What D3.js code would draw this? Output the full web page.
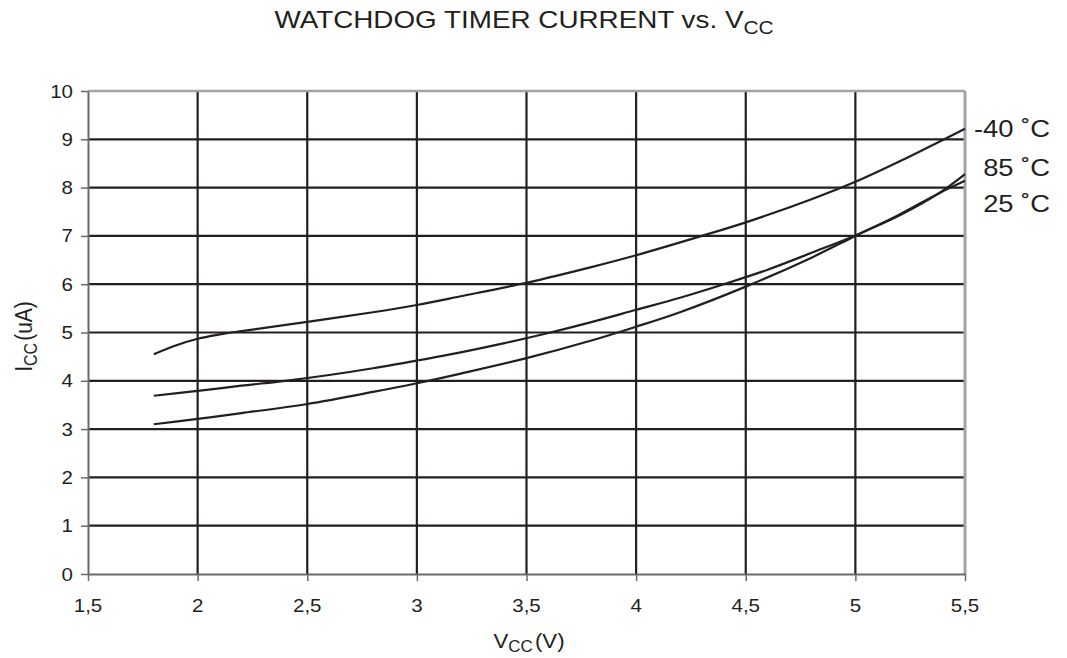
<!doctype html>
<html>
<head>
	<meta charset="UTF-8">
	<title>Watchdog timer current vs Vcc</title>
	<script src="https://d3js.org/d3.v7.min.js"></script>
	<style>
		body { margin: 0; background: #fff; }
		text { font-family: "Liberation Sans", Arial, sans-serif; fill: #231f20; }
	</style>
</head>
<body>
	<script>
		// Axis ticks
		var xTicks = [1.5, 2, 2.5, 3, 3.5, 4, 4.5, 5, 5.5];
		var xTickLabels = ["1,5", "2", "2,5", "3", "3,5", "4", "4,5", "5", "5,5"];
		var yTicks = [0, 1, 2, 3, 4, 5, 6, 7, 8, 9, 10];
		var yTickLabels = ["0", "1", "2", "3", "4", "5", "6", "7", "8", "9", "10"];

		// Curves (Vcc in V, Icc in uA)
		var vMinus40 = [1.8, 1.9, 2.0, 2.1, 2.2, 2.5, 2.8, 3.0, 3.2, 3.5, 3.8, 4.0, 4.3, 4.5, 4.8, 5.0, 5.2, 5.5];
		var iMinus40 = [4.55, 4.73, 4.87, 4.96, 5.03, 5.22, 5.42, 5.57, 5.75, 6.03, 6.36, 6.60, 7.00, 7.28, 7.76, 8.12, 8.54, 9.22];

		var v85 = [1.8, 2.0, 2.2, 2.5, 2.8, 3.0, 3.2, 3.5, 3.8, 4.0, 4.2, 4.5, 4.8, 5.0, 5.2, 5.38, 5.5];
		var i85 = [3.10, 3.21, 3.33, 3.52, 3.77, 3.95, 4.15, 4.47, 4.84, 5.12, 5.42, 5.95, 6.55, 7.00, 7.44, 7.88, 8.14];

		var v25 = [1.8, 2.0, 2.2, 2.4, 2.6, 2.8, 3.0, 3.2, 3.4, 3.6, 3.8, 4.0, 4.2, 4.4, 4.6, 4.8, 5.0, 5.2, 5.38, 5.5];
		var i25 = [3.69, 3.79, 3.90, 4.00, 4.12, 4.26, 4.42, 4.59, 4.78, 4.99, 5.22, 5.47, 5.72, 6.00, 6.30, 6.65, 7.01, 7.42, 7.88, 8.28];

		var curveLabels = ["-40 \u02DAC", "85 \u02DAC", "25 \u02DAC"];

		// Layout (plot box in pixels)
		var W = 1067, H = 658;
		var plotL = 88, plotR = 965, plotT = 91, plotB = 574;
		var sx = 1.14; // the original is a bit wider than tall

		var x = d3.scaleLinear().domain([1.5, 5.5]).range([plotL, plotR]);
		var y = d3.scaleLinear().domain([0, 10]).range([plotB, plotT]);

		var svg = d3.select("body").append("svg")
			.attr("width", W)
			.attr("height", H);

		// stretched text helper
		function label(px, py, anchor, size, stretch) {
			return svg.append("text")
				.attr("transform", "translate(" + px + "," + py + ") scale(" + stretch + ",1)")
				.attr("text-anchor", anchor)
				.style("font-size", size + "px");
		}

		// Grid
		svg.append("g").selectAll("line")
			.data(xTicks.slice(1, -1))
			.join("line")
				.attr("x1", d => x(d)).attr("x2", d => x(d))
				.attr("y1", y(10)).attr("y2", y(0))
				.attr("stroke", "#231f20").attr("stroke-width", 2.2);

		svg.append("g").selectAll("line")
			.data(yTicks.slice(1, -1))
			.join("line")
				.attr("x1", x(1.5)).attr("x2", x(5.5))
				.attr("y1", d => y(d)).attr("y2", d => y(d))
				.attr("stroke", "#231f20").attr("stroke-width", 2.2);

		// Frame: top and right light grey, left and bottom darker grey
		svg.append("line")
			.attr("x1", x(1.5)).attr("x2", x(5.5)).attr("y1", y(10)).attr("y2", y(10))
			.attr("stroke", "#a3a3a3").attr("stroke-width", 2.5);
		svg.append("line")
			.attr("x1", x(5.5)).attr("x2", x(5.5)).attr("y1", y(10)).attr("y2", y(0))
			.attr("stroke", "#a3a3a3").attr("stroke-width", 3);

		// Axes (ticks only, labels drawn below)
		var yAxis = svg.append("g")
			.attr("transform", "translate(" + plotL + ",0)")
			.call(d3.axisLeft(y).tickValues(yTicks).tickSize(7).tickSizeOuter(0).tickFormat(""));
		var xAxis = svg.append("g")
			.attr("transform", "translate(0," + plotB + ")")
			.call(d3.axisBottom(x).tickValues(xTicks).tickSize(7).tickSizeOuter(0).tickFormat(""));
		[yAxis, xAxis].forEach(function(a) {
			a.select(".domain").attr("stroke", "#6a6a6a").attr("stroke-width", 2);
			a.selectAll(".tick line").attr("stroke", "#6a6a6a").attr("stroke-width", 1.5);
		});

		// Tick labels
		yTicks.forEach(function(d, i) {
			label(73, y(d) + 6.5, "end", 18, sx).text(yTickLabels[i]);
		});
		xTicks.forEach(function(d, i) {
			label(x(d), 612, "middle", 18, sx).text(xTickLabels[i]);
		});

		// Curves
		var line = d3.line()
			.x(d => x(d[0]))
			.y(d => y(d[1]))
			.curve(d3.curveCatmullRom.alpha(0.5));

		[[vMinus40, iMinus40], [v85, i85], [v25, i25]].forEach(function(s) {
			svg.append("path")
				.datum(d3.zip(s[0], s[1]))
				.attr("d", line)
				.attr("fill", "none")
				.attr("stroke", "#231f20")
				.attr("stroke-width", 2.2);
		});

		// Curve labels
		var labelY = [137, 176, 212];
		curveLabels.forEach(function(t, i) {
			label(1050, labelY[i], "end", 24, sx).text(t);
		});

		// Title
		var title = label(524, 28, "middle", 24, 1.16);
		title.append("tspan").text("WATCHDOG TIMER CURRENT vs. V");
		title.append("tspan").attr("dy", 6).style("font-size", "18px").text("CC");

		// X axis title
		var xt = label(529, 648, "middle", 21, 1.06);
		xt.append("tspan").text("V");
		xt.append("tspan").attr("dy", 4).style("font-size", "16px").text("CC");
		xt.append("tspan").attr("dy", -4).attr("dx", 2).text("(V)");

		// Y axis title
		var yt = svg.append("text")
			.attr("transform", "translate(32," + ((plotT + plotB) / 2 + 4) + ") scale(" + sx + ",1) rotate(-90)")
			.attr("text-anchor", "middle")
			.style("font-size", "21px");
		yt.append("tspan").text("I");
		yt.append("tspan").attr("dy", 4).style("font-size", "16px").text("CC");
		yt.append("tspan").attr("dy", -4).attr("dx", 2).text("(uA)");
	</script>
</body>
</html>
